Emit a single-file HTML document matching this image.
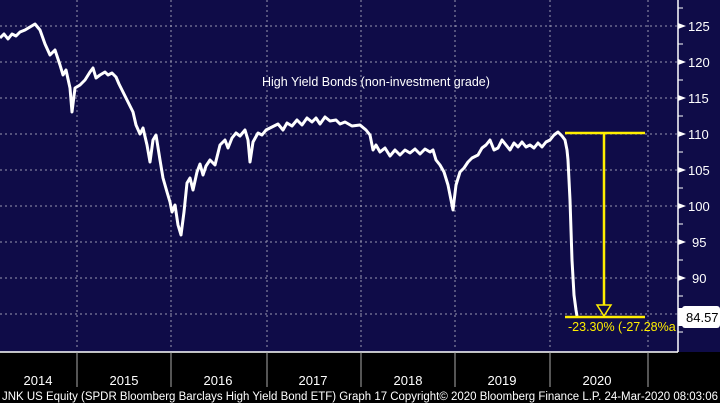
<!DOCTYPE html>
<html><head><meta charset="utf-8"><style>
html,body{margin:0;padding:0;background:#000;}
svg{display:block;font-family:"Liberation Sans",sans-serif;}
</style></head><body>
<svg width="720" height="403" viewBox="0 0 720 403">
<rect x="0" y="0" width="720" height="352" fill="#0f0c48"/>
<rect x="0" y="352" width="720" height="51" fill="#000"/>
<g stroke="#9a98b0" stroke-width="1" stroke-dasharray="2,3">
<line x1="0" y1="26" x2="678" y2="26"/><line x1="0" y1="62" x2="678" y2="62"/>
<line x1="0" y1="98" x2="678" y2="98"/><line x1="0" y1="134" x2="678" y2="134"/>
<line x1="0" y1="170" x2="678" y2="170"/><line x1="0" y1="206" x2="678" y2="206"/>
<line x1="0" y1="242" x2="678" y2="242"/><line x1="0" y1="278" x2="678" y2="278"/>
<line x1="0" y1="314" x2="678" y2="314"/>
<line x1="77" y1="0" x2="77" y2="350"/><line x1="171" y1="0" x2="171" y2="350"/>
<line x1="267" y1="0" x2="267" y2="350"/><line x1="361" y1="0" x2="361" y2="350"/>
<line x1="455" y1="0" x2="455" y2="350"/><line x1="550" y1="0" x2="550" y2="350"/>
<line x1="648" y1="0" x2="648" y2="350"/>
</g>
<line x1="678" y1="0" x2="678" y2="352" stroke="#fff" stroke-width="1.5"/>
<line x1="0" y1="352" x2="678" y2="352" stroke="#fff" stroke-width="1.5"/>
<g fill="#fff" font-size="13">
<polygon points="678,23 686,26 678,29"/><text x="688" y="31">125</text>
<polygon points="678,59 686,62 678,65"/><text x="688" y="67">120</text>
<polygon points="678,95 686,98 678,101"/><text x="688" y="103">115</text>
<polygon points="678,131 686,134 678,137"/><text x="688" y="139">110</text>
<polygon points="678,167 686,170 678,173"/><text x="688" y="175">105</text>
<polygon points="678,203 686,206 678,209"/><text x="688" y="211">100</text>
<polygon points="678,239 686,242 678,245"/><text x="692" y="247">95</text>
<polygon points="678,275 686,278 678,281"/><text x="692" y="283">90</text>
</g>
<g stroke="#fff" stroke-width="1">
<line x1="678" y1="8" x2="683" y2="8"/><line x1="678" y1="44" x2="683" y2="44"/><line x1="678" y1="80" x2="683" y2="80"/><line x1="678" y1="116" x2="683" y2="116"/><line x1="678" y1="152" x2="683" y2="152"/><line x1="678" y1="188" x2="683" y2="188"/><line x1="678" y1="224" x2="683" y2="224"/><line x1="678" y1="260" x2="683" y2="260"/><line x1="678" y1="296" x2="683" y2="296"/><line x1="678" y1="332" x2="683" y2="332"/>
</g>
<polygon points="678,308 684,308 690,317 684,326 678,326" fill="#fff"/>
<rect x="682" y="306" width="38" height="22" rx="3" fill="#fff"/>
<text x="686" y="322" font-size="13" fill="#000">84.57</text>
<g stroke="#aaa" stroke-width="1">
<line x1="77" y1="352" x2="77" y2="387"/><line x1="171" y1="352" x2="171" y2="387"/><line x1="267" y1="352" x2="267" y2="387"/><line x1="361" y1="352" x2="361" y2="387"/><line x1="455" y1="352" x2="455" y2="387"/><line x1="550" y1="352" x2="550" y2="387"/><line x1="648" y1="352" x2="648" y2="387"/>
</g>
<g fill="#fff" font-size="13" text-anchor="middle">
<text x="38" y="385">2014</text><text x="124" y="385">2015</text><text x="218" y="385">2016</text><text x="313" y="385">2017</text><text x="408" y="385">2018</text><text x="502" y="385">2019</text><text x="597" y="385">2020</text>
</g>
<text x="2" y="400" fill="#fff" font-size="11.5" textLength="716" lengthAdjust="spacingAndGlyphs">JNK US Equity (SPDR Bloomberg Barclays High Yield Bond ETF) Graph 17  Copyright© 2020 Bloomberg Finance L.P.  24-Mar-2020 08:03:06</text>
<text x="262" y="86" fill="#fff" font-size="12.5">High Yield Bonds (non-investment grade)</text>
<polyline fill="none" stroke="#fff" stroke-width="3" stroke-linejoin="round" points="0,38 4,34 8,39 12,34 16,36 20,32 25,30 30,27 35,24 40,30 45,44 50,55 55,50 60,65 63,75 66,70 70,88 72,112 75,88 80,85 85,80 90,72 93,68 96,78 100,75 105,72 108,75 112,73 116,77 119,84 122,90 126,98 129,104 133,112 136,125 140,134 143,128 147,145 150,162 153,140 156,135 160,160 163,178 167,192 170,202 172,212 175,205 178,225 181,235 184,212 187,183 190,178 193,190 197,172 200,164 203,175 206,166 210,160 215,165 220,145 225,140 228,148 232,138 236,133 240,136 245,130 248,140 250,162 253,142 258,133 262,135 266,130 272,127 278,124 283,130 287,123 292,126 297,120 302,125 307,118 312,122 316,118 320,124 325,117 330,121 336,120 340,124 345,122 352,126 360,125 366,130 370,135 373,150 376,145 380,152 385,148 390,156 395,150 400,155 405,150 410,153 415,149 420,154 425,149 430,152 433,150 436,160 440,165 444,172 448,185 450,195 453,210 456,185 460,172 464,168 468,162 472,158 478,155 482,148 486,145 490,140 494,150 498,148 502,140 506,145 510,150 514,143 518,147 522,142 526,147 530,145 534,148 538,143 542,147 546,142 550,140 554,135 558,132 562,136 565,140 567,150 568,160 570,200 572,260 574,295 576,310 577,316"/>
<g stroke="#ffee00" stroke-width="2.5">
<line x1="565" y1="133" x2="645" y2="133"/>
<line x1="604" y1="133" x2="604" y2="305"/>
<line x1="565" y1="317" x2="645" y2="317"/>
</g>
<polygon points="597,305 611,305 604,316" fill="none" stroke="#ffee00" stroke-width="1.5"/>
<text x="568" y="331" fill="#ffee00" font-size="12.5">-23.30% (-27.28%a</text>
</svg>
</body></html>
